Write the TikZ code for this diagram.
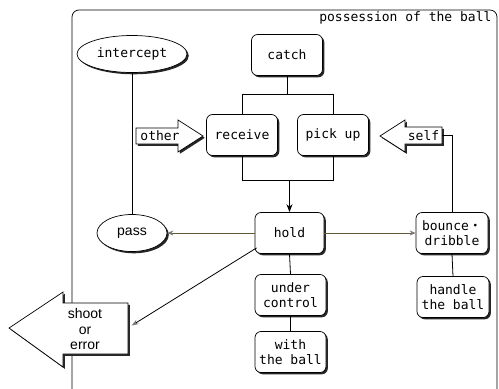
\documentclass[tikz,border=0pt]{standalone}
\usepackage{fontspec}
\setmainfont{Liberation Sans}
\newfontfamily\monof{DejaVu Sans Mono}
\newfontfamily\cjk{Noto Sans CJK JP}
\usetikzlibrary{shadows,arrows.meta,calc,shapes.geometric}
\definecolor{olivebr}{RGB}{100,88,52}
\definecolor{tipgray}{RGB}{120,120,120}
\begin{document}
\begin{tikzpicture}[x=1pt,y=-1pt,
  shad/.style={drop shadow={shadow xshift=1.8pt,shadow yshift=-1.8pt,opacity=1,fill=black!85}},
  box/.style={draw=black,line width=0.7pt,rounded corners=6pt,fill=white,
    minimum width=71pt,minimum height=41pt,align=center,inner sep=1pt,
    font=\monof\fontsize{13}{15}\selectfont,shad},
  oval/.style={ellipse,draw=black,line width=0.7pt,fill=white,inner sep=0pt,shad},
  blk/.style={draw=black,line width=0.7pt,fill=white,shad},
  conn/.style={draw=black,line width=0.8pt},
  oconn/.style={draw=olivebr,line width=0.9pt,-{Stealth[length=6pt,width=5pt,color=tipgray,fill=tipgray]}},
  mono/.style={font=\monof\fontsize{13}{15}\selectfont}
]
\useasboundingbox (0,0) rectangle (499,389);
% frame
\draw[line width=0.7pt,rounded corners=7pt] (72,389) -- (72,10) -- (497,10) -- (497,389);
\node[mono,anchor=east] (title) at (495,18) {possession of the ball};

% boxes
\node[box] (catch) at (287,55) {catch};
\node[box] (receive) at (242,135) {receive};
\node[box] (pickup) at (333,135) {pick up};
\node[box,minimum width=69pt] (hold) at (289.5,233) {hold};
\node[box] (under) at (290.5,295) {under\\control};
\node[box] (withball) at (290.5,352) {with\\the ball};
\node[box,minimum width=72pt] (bounce) at (452,233) {bounce{\cjk ・}\\dribble};
\node[box,minimum width=72pt] (handle) at (453,297) {handle\\the ball};

% ellipses
\node[oval,minimum width=110pt,minimum height=37pt,mono] (intercept) at (132,54) {intercept};
\node[oval,minimum width=70pt,minimum height=37pt,font=\fontsize{14}{16}\selectfont] (pass) at (132,233) {pass};

% bracket lines
\coordinate (bt) at (287,94);
\coordinate (bb) at (289.5,180);
\draw[conn] (catch.south) -- (bt);
\draw[conn] (receive.north) -- (receive.north |- bt) -- (pickup.north |- bt) -- (pickup.north);
\draw[conn] (receive.south) -- (receive.south |- bb) -- (pickup.south |- bb) -- (pickup.south);
\draw[conn,-{Stealth[length=8pt,width=6pt]}] (bb) -- (hold.north);

% other / self arrows
\path[blk] (136,128) -- (178,128) -- (178,120) -- (203,136) -- (178,152) -- (178,144) -- (136,144) -- cycle;
\node[mono,inner sep=0pt] (other) at (160,136) {other};
\path[blk] (442,127) -- (405,127) -- (405,120) -- (380,136) -- (405,152) -- (405,144) -- (442,144) -- cycle;
\node[mono,inner sep=0pt,minimum width=37pt] (self) at (423.5,135.5) {self};

% shoot or error arrow
\path[blk] (9,328) -- (63,292) -- (63,303) -- (128,303) -- (128,354) -- (63,354) -- (63,367) -- cycle;
\node[inner sep=0pt,minimum width=66pt,minimum height=51pt] (shoot) at (95.5,328.5) {};
\node[align=center,font=\fontsize{14}{15.5}\selectfont] (shoottext) at (85,329) {shoot\\or\\error};

% connectors
\draw[conn] (intercept.south) -- (pass.north);
\draw[conn] (self.east) -| (bounce.north);
\draw[conn] (hold.south) -- (under.north);
\draw[conn] (under.south) -- (withball.north);
\draw[conn] (bounce.south) -- (handle.south |- handle.north);
\draw[oconn] (hold.west) -- (pass.east);
\draw[oconn] (hold.east) -- (bounce.west);
\draw[conn,-{Stealth[length=7pt,width=5pt,color=tipgray,fill=tipgray]}] ($(hold.south west)+(2,-6)$) -- ($(shoot.east)+(3,-3)$);
\end{tikzpicture}
\end{document}
